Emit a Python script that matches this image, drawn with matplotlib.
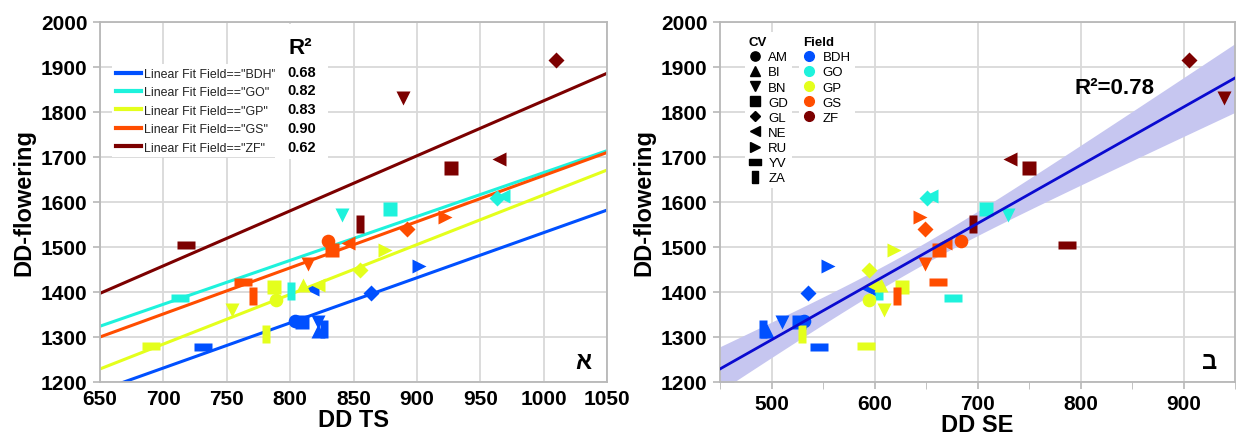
import numpy as np
import matplotlib
matplotlib.use("Agg")
import matplotlib.pyplot as plt
from matplotlib.lines import Line2D
from matplotlib.patches import Rectangle

plt.rcParams['font.family'] = ['Liberation Sans', 'DejaVu Sans']

# fields and cultivars
fields = ['BDH', 'GO', 'GP', 'GS', 'ZF']
field_colors = ['#0050ff', '#1ef2dc', '#e4ff1c', '#ff4d00', '#7c0000']
cvs = ['AM', 'BI', 'BN', 'GD', 'GL', 'NE', 'RU', 'YV', 'ZA']

# one entry per point: field, cultivar, DD TS, DD SE, DD-flowering
point_field = ['BDH'] * 9 + ['GO'] * 6 + ['GP'] * 9 + ['GS'] * 8 + ['ZF'] * 6
point_cv = ['AM', 'BI', 'BN', 'GD', 'GL', 'NE', 'RU', 'YV', 'ZA',
            'BN', 'GD', 'GL', 'NE', 'YV', 'ZA',
            'AM', 'BI', 'BN', 'GD', 'GL', 'NE', 'RU', 'YV', 'ZA',
            'AM', 'BN', 'GD', 'GL', 'NE', 'RU', 'YV', 'ZA',
            'BN', 'GD', 'GL', 'NE', 'YV', 'ZA']
dd_ts = [804, 822, 822, 809, 864, 817, 902, 731, 827,
         841, 879, 963, 968, 713, 801,
         789, 810, 754, 787, 855, 822, 875, 690, 781,
         830, 814, 833, 892, 846, 922, 763, 771,
         889, 927, 1010, 965, 718, 855]
dd_se = [532, 496, 510, 527, 535, 595, 555, 546, 492,
         730, 708, 651, 655, 676, 604,
         595, 606, 609, 627, 595, 598, 619, 592, 530,
         684, 649, 663, 649, 668, 644, 662, 622,
         939, 750, 905, 732, 787, 696]
dd_flw = [1336, 1314, 1334, 1334, 1397, 1407, 1457, 1277, 1317,
          1571, 1585, 1610, 1614, 1387, 1402,
          1382, 1415, 1361, 1411, 1450, 1415, 1494, 1279, 1306,
          1514, 1462, 1493, 1540, 1510, 1567, 1422, 1391,
          1831, 1676, 1916, 1695, 1504, 1551]

# per-field linear fits (left panel), value at x=650 and x=1050
fit_y650 = [1181, 1324, 1229, 1300, 1397]
fit_y1050 = [1582, 1714, 1671, 1710, 1886]
r2_values = ['0.68', '0.82', '0.83', '0.90', '0.62']

wide = [(-1, -0.45), (1, -0.45), (1, 0.45), (-1, 0.45), (-1, -0.45)]
tall = [(-0.45, -1), (0.45, -1), (0.45, 1), (-0.45, 1), (-0.45, -1)]
cv_marker = {'AM': 'o', 'BI': '^', 'BN': 'v', 'GD': 's', 'GL': 'D',
             'NE': '<', 'RU': '>', 'YV': wide, 'ZA': tall}
cv_size = {'AM': 9.8, 'BI': 10.5, 'BN': 10.5, 'GD': 9.8, 'GL': 8,
           'NE': 10.5, 'RU': 10.5, 'YV': 13, 'ZA': 13.5}
fcol = dict(zip(fields, field_colors))

grid_c = '#d9d9d9'
spine_c = '#b8b8b8'

fig = plt.figure(figsize=(12.36, 4.39), dpi=100)
ax1 = fig.add_axes([100 / 1236, 1 - 383 / 439, 507 / 1236, 360 / 439])
ax2 = fig.add_axes([720 / 1236, 1 - 383 / 439, 515 / 1236, 360 / 439])

for ax in (ax1, ax2):
    ax.set_ylim(1200, 2000)
    ax.set_yticks(np.arange(1200, 2001, 100))
    ax.grid(True, color=grid_c, lw=1.3)
    ax.set_axisbelow(True)
    for s in ax.spines.values():
        s.set_color(spine_c)
        s.set_linewidth(1.3)
    ax.tick_params(labelsize=15, colors=spine_c, width=1.2, length=5, pad=4)
    ax.set_ylabel('DD-flowering', fontsize=17, fontweight='bold', labelpad=4)

# ---- left panel: DD TS ----
ax1.set_xlim(650, 1050)
ax1.set_xticks(np.arange(650, 1051, 50))
ax1.tick_params(axis='x', length=0, pad=5)
xs = np.array([650, 1050])
for f, c, y0, y1 in zip(fields, field_colors, fit_y650, fit_y1050):
    ax1.plot(xs, [y0, y1], color=c, lw=2.2, zorder=2)
for f, cv, x, y in zip(point_field, point_cv, dd_ts, dd_flw):
    ax1.plot(x, y, ls='none', marker=cv_marker[cv], ms=cv_size[cv],
             color=fcol[f], mec='none', zorder=3)
ax1.set_xlabel('DD TS', fontsize=17, fontweight='bold', labelpad=0)

handles = [Line2D([], [], color=c, lw=3) for c in field_colors]
labels = ['Linear Fit Field=="%s"' % f for f in fields]
leg = ax1.legend(handles, labels, loc='upper left', bbox_to_anchor=(0.012, 0.9),
                 fontsize=8.9, frameon=True, facecolor='white', edgecolor='none',
                 framealpha=1, fancybox=False, handlelength=2.0, handletextpad=0.3,
                 labelspacing=0.52, borderpad=0.3)
leg.set_zorder(5)
for t in leg.get_texts():
    t.set_color('#222222')
ax1.add_patch(Rectangle((0.345, 0.62), 0.105, 0.375, transform=ax1.transAxes,
                        facecolor='white', edgecolor='none', zorder=6))
ax1.text(0.395, 0.93, 'R²', transform=ax1.transAxes, fontsize=16, fontweight='bold',
         ha='center', va='center', zorder=7)
for i, r in enumerate(r2_values):
    ax1.text(0.397, 0.862 - i * 0.052, r, transform=ax1.transAxes, fontsize=10.5,
             fontweight='bold', ha='center', va='center', zorder=7)
ax1.text(1031, 1245, 'א', fontsize=17, fontweight='bold', ha='center', va='center')

# ---- right panel: DD SE ----
ax2.set_xlim(450, 950)
ax2.set_xticks(np.arange(500, 901, 100))
ax2.set_xticks(np.arange(450, 951, 100), minor=True)
ax2.tick_params(axis='x', which='both', length=5, pad=4, colors=spine_c)
for ax in (ax1, ax2):
    for lab in ax.get_xticklabels() + ax.get_yticklabels():
        lab.set_color('black')
        lab.set_fontweight('bold')

se = np.array(dd_se, float)
fl = np.array(dd_flw, float)
b, a = np.polyfit(se, fl, 1)
n = len(se)
res = fl - (a + b * se)
s = np.sqrt(np.sum(res ** 2) / (n - 2))
xg = np.linspace(450, 950, 200)
half = 2.03 * s * np.sqrt(1 / n + (xg - se.mean()) ** 2 / np.sum((se - se.mean()) ** 2))
yg = a + b * xg
ax2.fill_between(xg, yg - half, yg + half, color='#c6c6f0', lw=0, zorder=1.5)
ax2.plot(xg, yg, color='#0a0ad0', lw=2, zorder=4)
for f, cv, x, y in zip(point_field, point_cv, dd_se, dd_flw):
    ax2.plot(x, y, ls='none', marker=cv_marker[cv], ms=cv_size[cv],
             color=fcol[f], mec='none', zorder=3)
ax2.set_xlabel('DD SE', fontsize=17, fontweight='bold', labelpad=0)
ax2.text(794, 1855, 'R²=0.78', fontsize=16, fontweight='bold', ha='left', va='center')
ax2.text(925, 1245, 'ב', fontsize=17, fontweight='bold', ha='center', va='center')

cv_handles = [Line2D([], [], ls='none', marker=cv_marker[c], ms=cv_size[c] * 0.68,
                     color='black') for c in cvs]
leg_cv = ax2.legend(cv_handles, cvs, loc='upper left', bbox_to_anchor=(0.035, 0.99),
                    fontsize=9.5, title='CV', title_fontproperties={'weight': 'bold', 'size': 9.5},
                    alignment='left', frameon=True, facecolor='white', edgecolor='none',
                    framealpha=1, fancybox=False, handlelength=1.0, handletextpad=0.5,
                    labelspacing=0.22, borderpad=0.3)
ax2.add_artist(leg_cv)
f_handles = [Line2D([], [], ls='none', marker='o', ms=7, color=c) for c in field_colors]
leg_f = ax2.legend(f_handles, fields, loc='upper left', bbox_to_anchor=(0.14, 0.99),
                   fontsize=9.5, title='Field', title_fontproperties={'weight': 'bold', 'size': 9.5},
                   alignment='left', frameon=True, facecolor='white', edgecolor='none',
                   framealpha=1, fancybox=False, handlelength=1.0, handletextpad=0.5,
                   labelspacing=0.22, borderpad=0.3)

fig.savefig('out.png', dpi=100)
